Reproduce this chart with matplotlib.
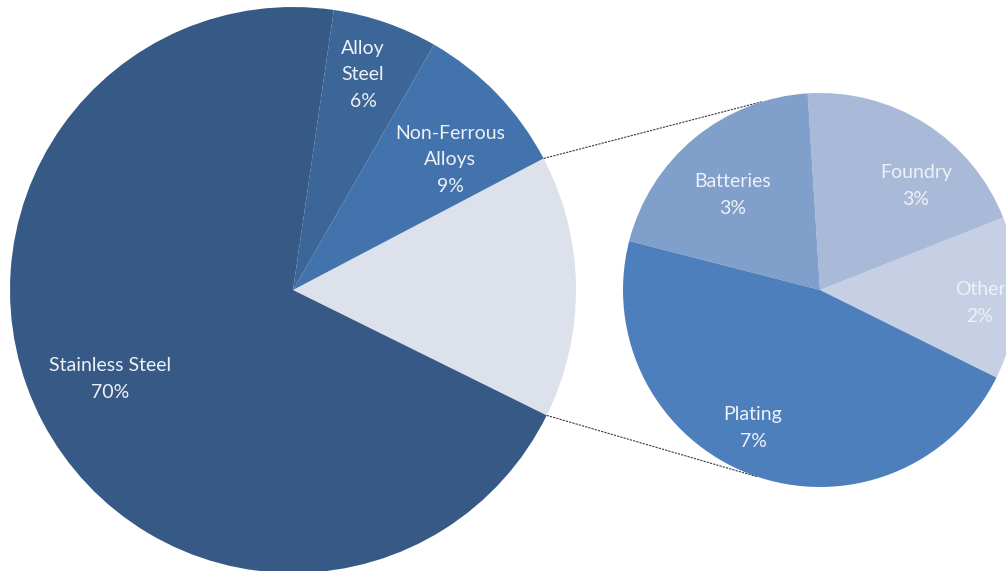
import numpy as np
import matplotlib.pyplot as plt

# Metal use breakdown (percent of total)
main_labels = ['Other uses', 'Non-Ferrous\nAlloys', 'Alloy\nSteel', 'Stainless Steel']
main_values = [15, 9, 6, 70]
main_colors = ['#dce1ec', '#4373ad', '#3c6598', '#365a85']

# Split of the "other uses" slice
sub_labels = ['Other', 'Foundry', 'Batteries', 'Plating']
sub_values = [2, 3, 3, 7]
sub_colors = ['#c6cfe3', '#a9b9d8', '#819fcb', '#4d7fbc']

W, H = 1006, 571
fig = plt.figure(figsize=(W / 100, H / 100), dpi=100)
ax = fig.add_axes([0, 0, 1, 1])

big_c, big_r = (293, H - 290), 283
small_c, small_r = (820, H - 290), 197

big_start = -26.3
wedges, _ = ax.pie(main_values, colors=main_colors, startangle=big_start,
                   counterclock=True, center=big_c, radius=big_r,
                   wedgeprops=dict(linewidth=0))
sub_wedges, _ = ax.pie(sub_values, colors=sub_colors, startangle=-26.4,
                       counterclock=True, center=small_c, radius=small_r,
                       wedgeprops=dict(linewidth=0))

# connector lines from the split slice to the second pie
w = wedges[0]
for a_big, a_small in [(w.theta2, 107.0), (w.theta1, 251.5)]:
    x0 = big_c[0] + big_r * np.cos(np.radians(a_big))
    y0 = big_c[1] + big_r * np.sin(np.radians(a_big))
    x1 = small_c[0] + small_r * np.cos(np.radians(a_small))
    y1 = small_c[1] + small_r * np.sin(np.radians(a_small))
    ax.plot([x0, x1], [y0, y1], color='#3a3a3a', lw=0.8, ls=(0, (2, 1)), zorder=0)

txt = dict(color='#eef1f7', fontsize=14, family=['Lato', 'DejaVu Sans'],
           ha='center', va='center', linespacing=1.7)

# label positions in pixel coordinates (x, y from top)
big_pos = {1: (450, 160), 2: (363, 75), 3: (110, 379)}
for i, (x, y) in big_pos.items():
    ax.text(x, H - y, f'{main_labels[i]}\n{main_values[i]}%', **txt)

sub_pos = [(980, 303), (916, 186), (733, 195), (753, 428)]
for lab, val, (x, y) in zip(sub_labels, sub_values, sub_pos):
    ax.text(x, H - y, f'{lab}\n{val}%', **txt)

ax.set_xlim(0, W)
ax.set_ylim(0, H)
ax.set_aspect('equal')
ax.axis('off')

fig.savefig('out.png', dpi=100, facecolor='white')
